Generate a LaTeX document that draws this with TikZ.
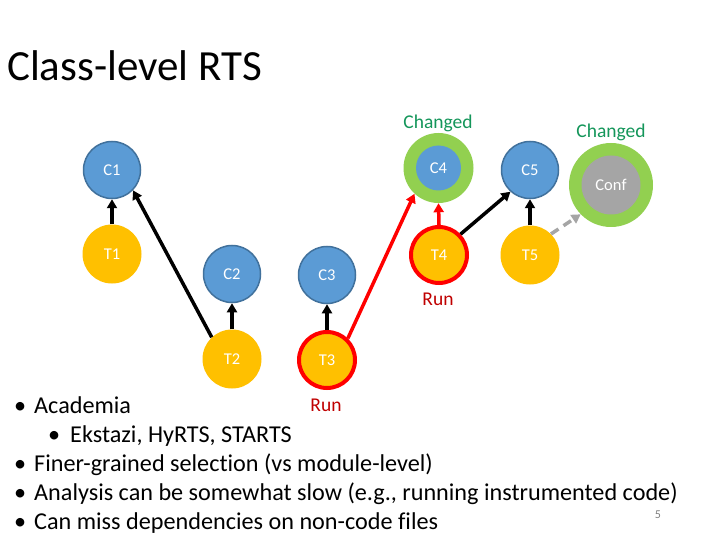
\documentclass[tikz,border=0pt]{standalone}
\usepackage{fontspec}
\setmainfont{Carlito}[Ligatures=NoCommon]
\usetikzlibrary{arrows.meta}
\definecolor{cblue}{RGB}{91,155,213}
\definecolor{cbluedark}{RGB}{65,113,156}
\definecolor{tyellow}{RGB}{255,192,0}
\definecolor{rgreen}{RGB}{146,208,80}
\definecolor{cgray}{RGB}{165,165,165}
\definecolor{chgreen}{RGB}{20,150,90}
\definecolor{rundark}{RGB}{192,0,0}
\tikzset{
  cls/.style={circle, fill=cblue, draw=cbluedark, line width=1.5pt, minimum size=57pt, inner sep=0pt, text=white, font=\fontsize{16.5}{16.5}\selectfont},
  tst/.style={circle, fill=tyellow, minimum size=59pt, inner sep=0pt, text=white, font=\fontsize{16.5}{16.5}\selectfont},
  tstrun/.style={tst, draw=red, line width=4pt, minimum size=56pt},
  ring/.style={circle, fill=rgreen, inner sep=0pt},
  dep/.style={line width=3.5pt, -{Triangle[length=9pt,width=10pt]}},
  deprun/.style={dep, draw=red, -{Triangle[length=9pt,width=10pt,fill=red]}},
  depconf/.style={line width=3.5pt, draw=cgray, dash pattern=on 9pt off 6pt, -{Triangle[length=9pt,width=10pt,fill=cgray]}},
  lblchg/.style={text=chgreen, font=\fontsize{19.5}{19.5}\selectfont},
  lblrun/.style={text=rundark, font=\fontsize{19.5}{19.5}\selectfont},
  bul/.style={anchor=base west, inner sep=0pt, font=\fontsize{24.2}{24.2}\selectfont}
}
\begin{document}
\begin{tikzpicture}[x=1pt,y=-1pt]
\useasboundingbox[fill=white] (0,0) rectangle (720,540);
% title
\node[anchor=base west, inner sep=0pt, font=\fontsize{43}{43}\selectfont] (title) at (7,81) {Class-level RTS};
% class nodes
\node[cls] (C1) at (112,170) {C1};
\node[cls] (C2) at (232,274) {C2};
\node[cls] (C3) at (327,275) {C3};
\node[ring, minimum size=70pt] (C4) at (438.5,168) {};
\node[circle, fill=cblue, minimum size=45pt, inner sep=0pt, text=white, font=\fontsize{16.5}{16.5}\selectfont] (C4in) at (C4.center) {C4};
\node[cls] (C5) at (530,170) {C5};
\node[ring, minimum size=84pt] (Conf) at (611,185) {};
\node[circle, fill=cgray, minimum size=59pt, inner sep=0pt, text=white, font=\fontsize{16.5}{16.5}\selectfont] (Confin) at (Conf.center) {Conf};
% test nodes
\node[tst] (T1) at (112,254) {T1};
\node[tst] (T2) at (232,359) {T2};
\node[tstrun] (T3) at (327,360) {T3};
\node[tstrun] (T4) at (439,255) {T4};
\node[tst] (T5) at (530,255) {T5};
% labels
\node[lblchg] (chg4) at (438,123) {Changed};
\node[lblchg] (chgconf) at (611,132) {Changed};
\node[lblrun] (run4) at (438,299) {Run};
\node[lblrun] (run3) at (326,405) {Run};
% edges
\draw[dep] (T1.north) -- (C1.south);
\draw[dep] (T2.133) -- (C1.-44);
\draw[dep] (T2.north) -- (C2.south);
\draw[dep] (T3.north) -- (C3.south);
\draw[deprun] (T3.46) -- (C4.-133);
\draw[deprun] (T4.north) -- (C4.south);
\draw[dep] (T4.44) -- (C5.-132);
\draw[dep] (T5.north) -- (C5.south);
\draw[depconf] (T5.45) -- (Conf.-136);
% bullets
\node[bul] (b1) at (14,413) {\textbullet};
\node[bul] (t1) at (34,413) {Academia};
\node[bul] (b2) at (48,442) {\textbullet};
\node[bul] (t2) at (70,442) {Ekstazi, HyRTS, STARTS};
\node[bul] (b3) at (14,471) {\textbullet};
\node[bul] (t3) at (34,471) {Finer-grained selection (vs module-level)};
\node[bul] (b4) at (14,500) {\textbullet};
\node[bul] (t4) at (34,500) {Analysis can be somewhat slow (e.g., running instrumented code)};
\node[bul] (b5) at (14,529) {\textbullet};
\node[bul] (t5) at (34,529) {Can miss dependencies on non-code files};
\node[anchor=base, inner sep=0pt, text=gray, font=\fontsize{12}{12}\selectfont] (pg) at (658,518) {5};
\end{tikzpicture}
\end{document}
